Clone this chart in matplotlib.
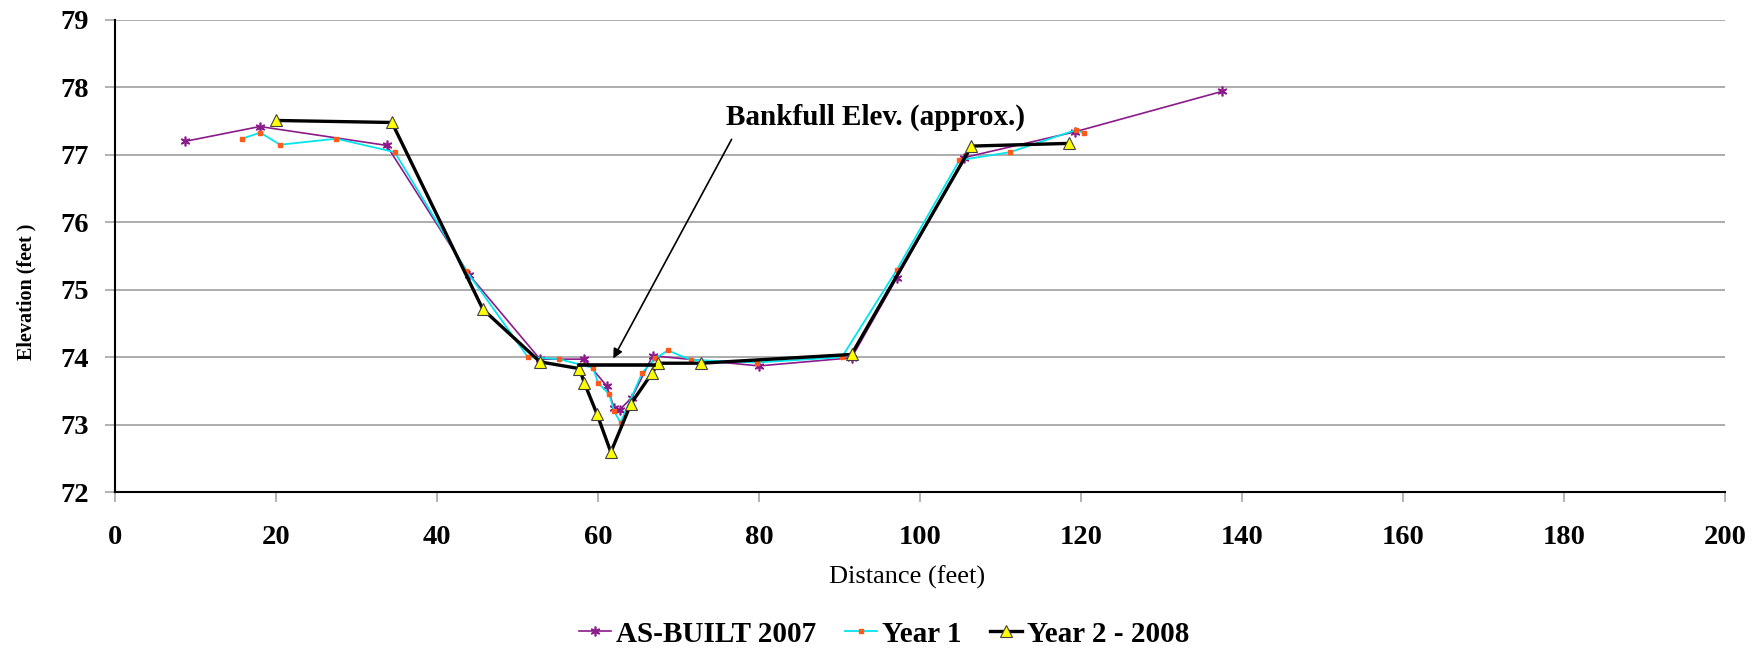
import matplotlib
matplotlib.use("Agg")
import matplotlib.pyplot as plt

# cross-section survey points (distance ft, elevation ft)
asbuilt_x = [8.7, 18.0, 33.75, 44.0, 52.8, 58.3, 61.1, 62.0, 62.7, 64.2, 66.8,
             80.0, 91.5, 97.1, 105.5, 119.2, 137.5]
asbuilt_y = [77.20, 77.42, 77.14, 75.22, 73.97, 73.97, 73.57, 73.25, 73.22, 73.40, 74.02,
             73.87, 73.99, 75.17, 76.96, 77.34, 77.94]

year1_x = [15.8, 18.05, 20.5, 27.5, 34.75, 43.65, 51.3, 55.2, 59.4, 60.0, 61.4, 62.0,
           62.8, 65.5, 67.1, 68.7, 71.5, 79.7, 90.3, 97.1, 104.9, 111.2, 119.4, 120.4]
year1_y = [77.24, 77.33, 77.15, 77.24, 77.04, 75.28, 74.00, 73.97, 73.84, 73.62, 73.45, 73.20,
           73.03, 73.77, 73.98, 74.10, 73.96, 73.92, 74.00, 75.29, 76.92, 77.04, 77.37, 77.32]

year2_x = [20.0, 34.4, 45.7, 52.8, 57.7, 58.3, 59.9, 61.6, 64.1, 66.7, 67.5, 72.8,
           91.5, 106.4, 118.5]
year2_y = [77.51, 77.48, 74.71, 73.93, 73.83, 73.62, 73.15, 72.59, 73.31, 73.76, 73.91, 73.91,
           74.04, 77.13, 77.17]

bankfull_x = [57.7, 66.9]
bankfull_y = [73.88, 73.88]

x_ticks = list(range(0, 201, 20))
y_ticks = list(range(72, 80))

plt.rcParams['font.family'] = ['Liberation Serif', 'DejaVu Serif']

fig = plt.figure(figsize=(17.58, 6.49), dpi=100)
ax = fig.add_axes([0.0654, 0.2419, 0.9158, 0.7273])

ax.plot(asbuilt_x, asbuilt_y, color='#8b1a8b', lw=1.2, marker=(6, 2, 0),
        markersize=7, markeredgewidth=1.2, label='AS-BUILT 2007', zorder=3)
ax.plot(year1_x, year1_y, color='#00e5ee', lw=1.3, marker='s', markersize=3.2,
        markerfacecolor='#ff5a1a', markeredgecolor='#ff5a1a', label='Year 1', zorder=4)
ax.plot(year2_x, year2_y, color='black', lw=2.4, marker='^', markersize=9,
        markerfacecolor='#ffff00', markeredgecolor='#404040', markeredgewidth=0.8,
        label='Year 2 - 2008', zorder=5)
ax.plot(bankfull_x, bankfull_y, color='black', lw=2.6, zorder=5)

ax.annotate('', xy=(61.9, 73.98), xytext=(76.6, 77.23),
            arrowprops=dict(arrowstyle='-|>', color='black', lw=1.2,
                            mutation_scale=14, shrinkA=0, shrinkB=0))
ax.text(94.5, 77.56, 'Bankfull Elev. (approx.)', ha='center', va='center',
        fontsize=21, fontweight='bold')

ax.set_xlim(0, 200)
ax.set_ylim(72, 79)
ax.set_xticks(x_ticks)
ax.set_yticks(y_ticks)
ax.grid(axis='y', color='#a6a6a6', lw=1.3)
ax.set_axisbelow(True)

for side in ['top', 'right']:
    ax.spines[side].set_visible(False)
for side in ['left', 'bottom']:
    ax.spines[side].set_color('black')
    ax.spines[side].set_linewidth(1.5)

ax.tick_params(axis='both', direction='out', length=7, width=1.2, color='#a6a6a6',
               labelsize=20.5)
ax.tick_params(axis='x', pad=17)
ax.tick_params(axis='y', pad=12)
for lbl in ax.get_xticklabels() + ax.get_yticklabels():
    lbl.set_fontweight('bold')

fig.text(0.5157, 0.111, 'Distance (feet)', ha='center', va='center', fontsize=19)
fig.text(0.0150, 0.55, 'Elevation (feet )', ha='center', va='center', rotation=90,
         fontsize=14.5, fontweight='bold')

fig.legend(loc='center', bbox_to_anchor=(0.503, 0.023), ncol=3, frameon=False,
           prop={'weight': 'bold', 'size': 21}, handlelength=1.1, handletextpad=0.15,
           columnspacing=1.0, borderaxespad=0)

fig.savefig('out.png', dpi=100)
